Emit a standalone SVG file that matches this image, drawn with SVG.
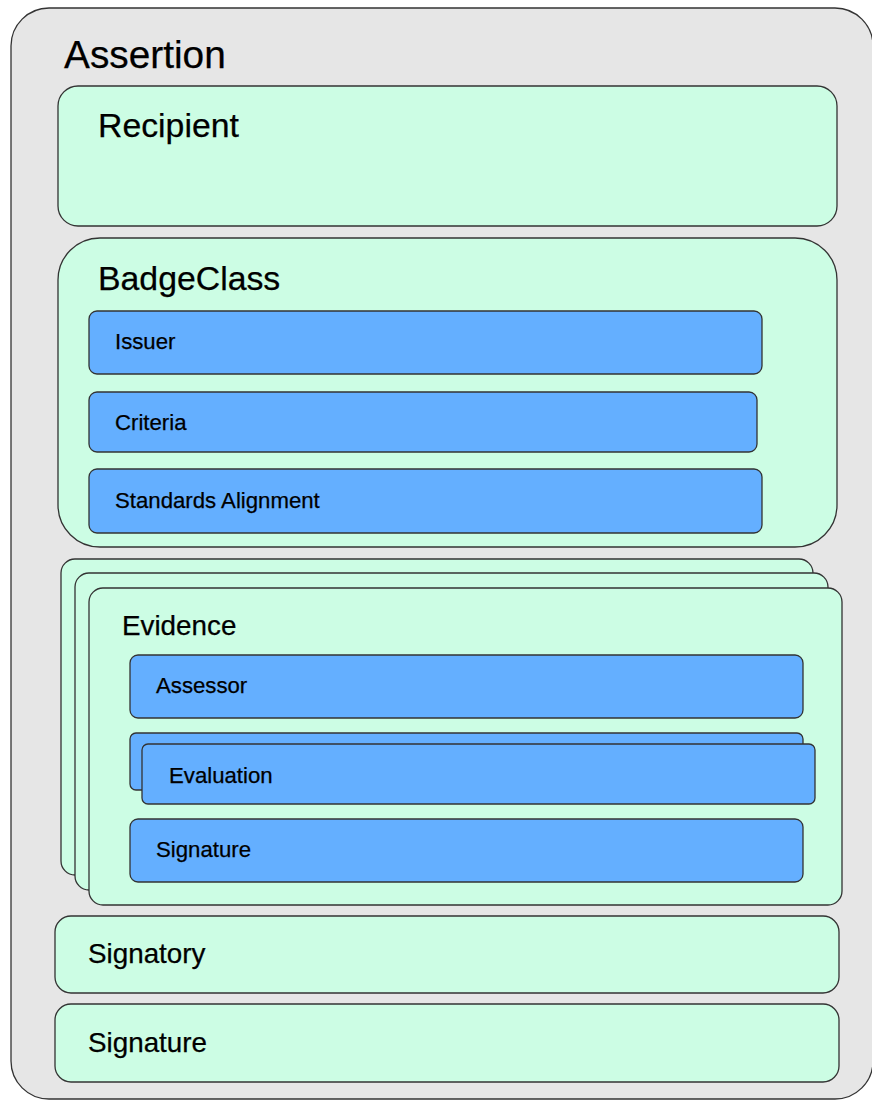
<svg xmlns="http://www.w3.org/2000/svg" width="872" height="1100" viewBox="0 0 872 1100">
<style>
.outer{fill:#e6e6e6;stroke:#333;stroke-width:1.3}
.green{fill:#ccfde4;stroke:#333;stroke-width:1.3}
.blue{fill:#64afff;stroke:#333;stroke-width:1.3}
text{font-family:"Liberation Sans",Arial,sans-serif;fill:#000;stroke:#000;stroke-width:0.25}
.t1{font-size:38.8px}
.t2{font-size:33.8px}
.t3{font-size:27.8px}
.t4{font-size:22.2px}
</style>
<rect width="872" height="1100" fill="#ffffff"/>
<g id="assertion">
<rect class="outer" x="11" y="8" width="862" height="1091" rx="38"/>
<text class="t1" x="64" y="68">Assertion</text>
</g>
<g id="recipient">
<rect class="green" x="58" y="86" width="779" height="140" rx="20"/>
<text class="t2" x="98" y="137">Recipient</text>
</g>
<g id="badgeclass">
<rect class="green" x="58" y="238" width="779" height="309" rx="42"/>
<text class="t2" x="98" y="290">BadgeClass</text>
</g>
<g id="issuer">
<rect class="blue" x="89" y="311" width="673" height="63" rx="8"/>
<text class="t4" x="115" y="349">Issuer</text>
</g>
<g id="criteria">
<rect class="blue" x="89" y="392" width="668" height="60" rx="8"/>
<text class="t4" x="115" y="430">Criteria</text>
</g>
<g id="standards-alignment">
<rect class="blue" x="89" y="469" width="673" height="64" rx="8"/>
<text class="t4" x="115" y="508">Standards Alignment</text>
</g>
<g id="evidence">
<rect class="green" x="61" y="559" width="752" height="316" rx="14"/>
<rect class="green" x="75" y="573" width="753" height="317" rx="14"/>
<rect class="green" x="89" y="588" width="753" height="317" rx="14"/>
<text class="t3" x="122" y="635">Evidence</text>
</g>
<g id="assessor">
<rect class="blue" x="130" y="655" width="673" height="63" rx="8"/>
<text class="t4" x="156" y="693">Assessor</text>
</g>
<g id="evaluation">
<rect class="blue" x="130" y="733" width="673" height="57" rx="6"/>
<rect class="blue" x="142" y="744" width="673" height="60" rx="6"/>
<text class="t4" x="169" y="783">Evaluation</text>
</g>
<g id="evidence-signature">
<rect class="blue" x="130" y="819" width="673" height="63" rx="8"/>
<text class="t4" x="156" y="857">Signature</text>
</g>
<g id="signatory">
<rect class="green" x="55" y="916" width="784" height="77" rx="16"/>
<text class="t3" x="88" y="963">Signatory</text>
</g>
<g id="signature">
<rect class="green" x="55" y="1004" width="784" height="78" rx="16"/>
<text class="t3" x="88" y="1052">Signature</text>
</g>
<g id="connectors"/>
</svg>
